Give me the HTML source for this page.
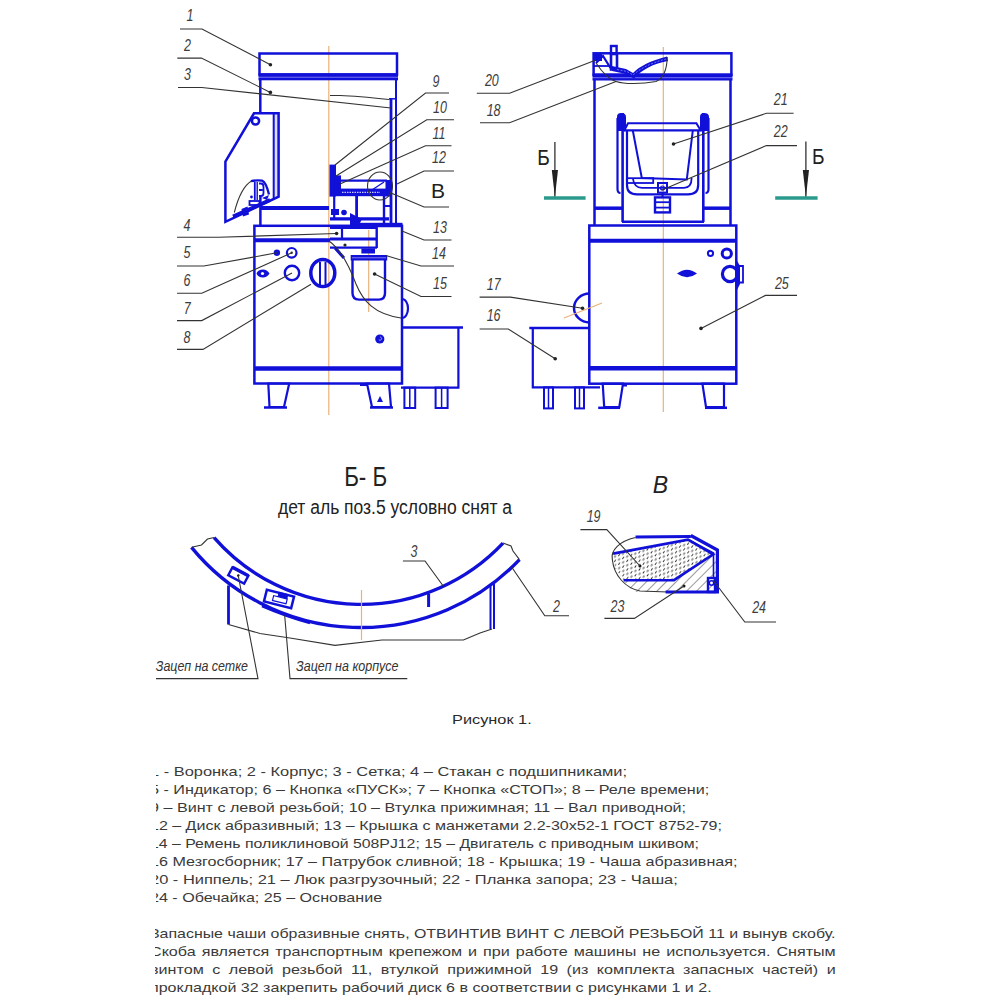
<!DOCTYPE html>
<html><head><meta charset="utf-8">
<style>
html,body{margin:0;padding:0;background:#fff;}
body{width:1000px;height:1000px;overflow:hidden;position:relative;font-family:"Liberation Sans",sans-serif;}
svg{position:absolute;left:0;top:0;}
.b{stroke:#1010d8;fill:none;}
.k{stroke:#333;fill:none;stroke-width:1.1;}
.o{stroke:#e9b27a;fill:none;stroke-width:1.2;}
.lbl text,text.lbl{font-family:"Liberation Sans",sans-serif;font-style:italic;font-size:16px;fill:#3c3c3c;transform-box:fill-box;transform-origin:center;transform:scaleX(0.78);}
.ln,.pl{position:absolute;white-space:nowrap;transform-origin:0 0;font-size:13px;color:#3a3a3a;line-height:16px;}
.txt{position:absolute;left:156px;overflow:hidden;white-space:nowrap;font-size:13px;color:#2a2a2a;}
</style></head><body>
<svg width="1000" height="1000" viewBox="0 0 1000 1000">
<!-- ===== LEFT VIEW ===== -->
<g id="left">
 <!-- centre line -->
 <line class="o" x1="328.8" y1="46" x2="328.8" y2="415"/>
 <line class="o" x1="368.7" y1="230" x2="368.7" y2="312" stroke-width="0.8"/>
 <!-- top funnel rect -->
 <rect class="b" x="259.5" y="53.5" width="137.5" height="21" stroke-width="2.5"/>
 <rect x="258.5" y="73.3" width="139.5" height="3.6" fill="#1010d8"/><rect x="258.5" y="76.9" width="139.5" height="1" fill="#5050ee"/><rect x="258.5" y="77.9" width="139.5" height="2.4" fill="#1010d8"/>
 <!-- housing walls -->
 <line class="b" x1="260.3" y1="80" x2="260.3" y2="114" stroke-width="2.5"/>
 <line class="b" x1="391" y1="98.5" x2="391" y2="224" stroke-width="2.8"/><line class="b" x1="389" y1="98.8" x2="396" y2="98.8" stroke-width="1.5"/>
 <line class="b" x1="396" y1="80" x2="396" y2="226" stroke-width="2"/>
 <path class="k" d="M330,95.5 H340 C355,96 375,98 389,99.5"/>
 <!-- hopper plate -->
 <rect x="273.7" y="113.3" width="4.9" height="83" fill="#dcdcfa"/>
 <polygon class="b" points="254,113.3 278.6,113.3 278.6,196.6 225.4,221.8 225.4,161.6" stroke-width="2.5"/>
 <line class="b" x1="273.7" y1="113.3" x2="273.7" y2="199" stroke-width="2"/>
 <circle class="b" cx="255.5" cy="121" r="3.6" stroke-width="2.5"/>
 <path class="k" d="M234.3,212.5 C238,198 243,186 251.5,181"/>
 <path class="b" d="M251,181.2 Q256,180 262,180.6 Q266,182 269,194.5" stroke-width="2.4"/>
 <line class="b" x1="254.8" y1="182" x2="254.8" y2="200" stroke-width="1.8"/>
 <line class="b" x1="257.2" y1="182" x2="257.2" y2="200" stroke-width="1.4"/>
 <path class="b" d="M259,183.5 h2 q2.5,0 2.5,3.5 v6 q0,3 -2.5,3 h-2 M259,190 h3.5" stroke-width="1.8"/>
 <rect class="b" x="249.5" y="201" width="10" height="4" stroke-width="1.8"/>
 <circle cx="251.5" cy="197" r="1.4" fill="#1010d8"/>
 <path d="M262,198 L269,195 L267,200Z" fill="#1010d8"/>
 <line class="b" x1="233" y1="216.5" x2="270" y2="200" stroke-width="3.6"/>
 <path d="M241.5,209 l6,-2.5 l1.5,8 l-6,2z" fill="#1010d8"/>
 <!-- band between housing and base -->
 <line class="b" x1="260" y1="208" x2="329" y2="208" stroke-width="4"/>
 <line class="b" x1="260.4" y1="197" x2="260.4" y2="226" stroke-width="2.5"/>
 <!-- base body -->
 <rect class="b" x="254.4" y="225.8" width="147.6" height="157.7" stroke-width="2.5"/>
 <line class="b" x1="254" y1="240.2" x2="330" y2="240.2" stroke-width="4"/>
 <line class="b" x1="254" y1="368.4" x2="402" y2="368.4" stroke-width="4.5"/>
 <!-- legs -->
 <polygon class="b" points="268.3,383.5 289.2,383.5 284,407 269.5,407" stroke-width="2.2"/>
 <line class="b" x1="264" y1="407.5" x2="287" y2="407.5" stroke-width="2.5"/>
 <polygon class="b" points="367,383.5 389,383.5 391,407 372,407" stroke-width="2.2"/>
 <line class="b" x1="370" y1="407.5" x2="393" y2="407.5" stroke-width="2.5"/>
 <line class="b" x1="360" y1="385" x2="368" y2="385" stroke-width="2"/>
 <path d="M377,402 l3,-6 l3,6z" fill="#1010d8"/>
 <!-- tray 16 (left view) -->
 <polyline class="b" points="401,327.6 463,327.6" stroke-width="2.5"/>
 <polyline class="b" points="458.4,327.6 458.4,387.6 401,387.6" stroke-width="2.2"/>
 <rect class="b" x="404.4" y="387.6" width="10.8" height="20.4" stroke-width="2"/>
 <line class="b" x1="409.8" y1="388" x2="409.8" y2="408" stroke-width="1.5"/>
 <rect class="b" x="435.6" y="387.6" width="12" height="20.4" stroke-width="2"/>
 <line class="b" x1="441.6" y1="388" x2="441.6" y2="408" stroke-width="1.5"/>
 <!-- controls -->
 <circle cx="276.9" cy="252.8" r="3.2" fill="#1010d8"/>
 <circle class="b" cx="291.7" cy="252.8" r="4.8" stroke-width="2.2"/>
 <circle cx="291.7" cy="252.8" r="1.2" fill="#333"/>
 <circle class="b" cx="292" cy="273" r="7.2" stroke-width="2.4"/>
 <path d="M256.5,273.5 Q258,269.5 263,269.5 Q267,269.5 269.5,273.5 Q267,277.5 263,277.5 Q258,277.5 256.5,273.5Z" fill="#1010d8"/><circle cx="262.5" cy="273.5" r="1.6" fill="#fff"/>
 <ellipse class="b" cx="322.8" cy="273" rx="12" ry="13.5" stroke-width="3.5"/>
 <line class="b" x1="320" y1="262" x2="320" y2="285" stroke-width="2"/>
 <line class="b" x1="325.5" y1="262" x2="325.5" y2="285" stroke-width="2"/>
 <circle cx="379.8" cy="339" r="4.6" fill="#1010d8"/><path d="M380,337 a1.6,1.6 0 1 1 -1.2,2.6" stroke="#c8c8ff" stroke-width="0.8" fill="none"/>
 <!-- mechanism -->
 <rect x="329.5" y="164.6" width="6.5" height="32" fill="#1010d8"/>
 <rect x="334.6" y="175.4" width="6.4" height="15" fill="#1010d8"/>
 <line class="b" x1="341" y1="180.6" x2="387" y2="180.6" stroke-width="2.2"/>
 <rect x="336" y="188.6" width="50" height="7.6" fill="#1010d8"/>
 <line x1="342" y1="192.3" x2="380" y2="192.3" stroke="#c8c8ff" stroke-width="1.2" stroke-dasharray="1.5,1"/>
 <rect x="385.5" y="180" width="6" height="16.5" fill="#1010d8"/>
 <path class="b" d="M372,190 L384,182" stroke-width="1.3"/>
 <line class="b" x1="334.2" y1="196" x2="334.2" y2="218" stroke-width="2.2"/>
 <line class="b" x1="356.6" y1="196" x2="356.6" y2="218" stroke-width="2.8"/>
 <line class="b" x1="384" y1="196" x2="384" y2="225" stroke-width="2.4"/>
 <line class="b" x1="330" y1="218.8" x2="389" y2="218.8" stroke-width="3.2"/>
 <rect x="350" y="222.8" width="52.5" height="4.4" fill="#1010d8"/>
 <rect x="331" y="209" width="8" height="6" fill="#1010d8"/>
 <circle cx="344" cy="212.5" r="2.8" fill="#1010d8"/>
 <path d="M350,213 L362,219 L357,229 L350,226Z" fill="#1010d8"/>
 <line class="b" x1="384.5" y1="206" x2="391" y2="206" stroke-width="2"/>
 <ellipse class="k" cx="380" cy="186" rx="12.5" ry="14" stroke-width="1"/>
 <!-- stakan 4 area -->
 <line class="b" x1="330" y1="227.8" x2="377" y2="227.8" stroke-width="2.2"/>
 <line class="b" x1="330" y1="239" x2="377" y2="239" stroke-width="3.2"/>
 <line class="b" x1="330" y1="247.6" x2="377" y2="247.6" stroke-width="2.4"/>
 <line class="b" x1="376.7" y1="226" x2="376.7" y2="248" stroke-width="2.4"/>
 <line class="b" x1="342" y1="227" x2="342" y2="239" stroke-width="2.2"/>
 <circle cx="345" cy="245" r="1.6" fill="#222"/>
 <path class="b" d="M335,248 L344,258" stroke-width="3"/>
 <!-- motor 15 -->
 <rect x="350.7" y="255" width="36.5" height="5.5" fill="#1010d8"/>
 <line x1="352" y1="257.8" x2="386" y2="257.8" stroke="#9a9af5" stroke-width="0.8"/>
 <rect x="361.4" y="248.5" width="13.6" height="5" fill="#1010d8"/>
 <path class="b" d="M352.5,259 V293 Q352.5,299.6 359,299.6 H379 Q385,299.6 385,293 V259" stroke-width="2.4"/>
 <path class="k" d="M329,241 C342,250 350,268 356,284 C363,301 374,314 401,318" stroke-width="1"/>
 <path class="b" d="M402,299 A6,9.5 0 0 1 402,318" stroke-width="2.2"/>
</g>

<!-- ===== RIGHT VIEW ===== -->
<g id="right">
 <line class="o" x1="663.3" y1="47" x2="663.3" y2="412" stroke-width="1"/>
 <rect class="b" x="593.6" y="53.3" width="137.8" height="21.5" stroke-width="2.5"/>
 <rect x="592.5" y="73.5" width="140" height="3.6" fill="#1010d8"/><rect x="592.5" y="77.1" width="140" height="1" fill="#5050ee"/><rect x="592.5" y="78.1" width="140" height="2.4" fill="#1010d8"/>
 <line class="b" x1="594.5" y1="80" x2="594.5" y2="226" stroke-width="2.5"/>
 <line class="b" x1="730.5" y1="80" x2="730.5" y2="226" stroke-width="2.5"/>
 <!-- nipple 20 & lid 18 -->
 <rect class="b" x="611" y="46" width="5.6" height="7.5" stroke-width="2.4"/>
 <rect class="b" x="611" y="54" width="6" height="15.5" stroke-width="2.6"/>
 <rect x="594" y="53" width="8" height="8" fill="#1010d8"/>
 <polyline class="b" points="596,63 603,56 610.5,68" stroke-width="2.2"/>
 <line class="b" x1="594" y1="66" x2="610" y2="66" stroke-width="1.8"/>
 <path d="M612,66 L626,69 L633,73 C640,66 650,61 667,56.5 L668,61 C652,64 642,70 634,78.5 L626,74 L612,71Z" fill="#1010d8"/>
 <path d="M617,69.5 L627,71.5 L633,75 C641,68 651,63 666,59" stroke="#8c8cf4" stroke-width="0.8" fill="none" stroke-dasharray="2,1.5"/>
 <path class="k" d="M596,63 C602,72 608,79 616,81.5 C624,84 640,84.5 656,81.5 C664,78 667,68 667.2,57" stroke-width="1"/>
 <!-- hatch 21 -->
 <path class="b" d="M617.5,118 V189 Q617.5,193 620.5,193" stroke-width="2.2"/>
 <path class="b" d="M708.5,118 V189 Q708.5,193 705.5,193" stroke-width="2.2"/>
 <path d="M617,117 Q617,113 621,113 Q626,113 626,117 V131 H617Z" fill="#1010d8"/>
 <path d="M700,117 Q700,113 704,113 Q709,113 709,117 V131 H700Z" fill="#1010d8"/>
 <line class="b" x1="622.6" y1="113" x2="622.6" y2="222" stroke-width="2.6"/>
 <line class="b" x1="703.3" y1="113" x2="703.3" y2="222" stroke-width="2.6"/>
 <polyline class="b" points="624,131 628,123.3 696.4,123.3 701,131" stroke-width="2"/>
 <line class="b" x1="624" y1="130.3" x2="702" y2="130.3" stroke-width="2.2"/>
 <path class="b" d="M627,131 V185 Q627,194.4 637,194.4 H688 Q698.2,194.4 698.2,185 V131" stroke-width="2.2"/>
 <polyline class="b" points="632.8,130.5 641.8,178 686.8,179.4 692.8,130.5" stroke-width="2"/>
 <path class="b" d="M632.8,178 Q634,187.8 642,187.8 H684 Q691.6,187.8 691.6,178" stroke-width="1.8"/>
 <rect class="b" x="627" y="178.2" width="26.2" height="4.8" stroke-width="1.8"/>
 <rect class="b" x="658" y="183" width="9" height="9.6" stroke-width="2"/>
 <circle class="b" cx="662.5" cy="188" r="2" stroke-width="1.2"/>
 <rect class="b" x="655" y="197.4" width="15" height="15" stroke-width="2.4"/>
 <line class="b" x1="656" y1="202.2" x2="669" y2="202.2" stroke-width="1.8"/>
 <line class="b" x1="656" y1="207.6" x2="669" y2="207.6" stroke-width="1.8"/>
 <line class="b" x1="662.5" y1="192.6" x2="662.5" y2="197.4" stroke-width="2"/>
 <line class="b" x1="594" y1="208.2" x2="622" y2="208.2" stroke-width="3.5"/>
 <line class="b" x1="703" y1="208.2" x2="731" y2="208.2" stroke-width="3.5"/>
 <line class="b" x1="622" y1="221.8" x2="704" y2="221.8" stroke-width="2.4"/>
 <!-- body 25 -->
 <rect class="b" x="589.3" y="225.5" width="147" height="158.2" stroke-width="2.5"/>
 <line class="b" x1="589" y1="240.7" x2="737" y2="240.7" stroke-width="4"/>
 <line class="b" x1="589" y1="368.3" x2="737" y2="368.3" stroke-width="4.5"/>
 <circle class="b" cx="710.5" cy="253.3" r="2.6" stroke-width="2"/>
 <circle class="b" cx="726.8" cy="253.5" r="4.6" stroke-width="3"/>
 <circle class="b" cx="730" cy="274" r="7.6" stroke-width="3.2"/>
 <path d="M735.5,258 L740,266 L740,284 L737,290 L735.5,290Z" fill="#1010d8"/>
 <path class="b" d="M739,266 H743 V282.5 H737" stroke-width="1.8"/>
 <path d="M677,273.6 Q687,266 697,273.6 Q687,281 677,273.6Z" fill="#1010d8"/>
 <!-- patrubok 17 -->
 <path class="b" d="M589.5,293.6 A15.5,14.4 0 0 0 589.5,322.4" stroke-width="2.5"/>
 <line class="o" x1="564" y1="318" x2="602" y2="303" stroke-width="1.2"/>
 <!-- legs -->
 <polygon class="b" points="602.7,383.7 623,383.7 619.3,407 604.2,407" stroke-width="2.2"/>
 <line class="b" x1="598.2" y1="407.8" x2="620" y2="407.8" stroke-width="2.5"/>
 <line class="b" x1="622" y1="385.5" x2="627" y2="385.5" stroke-width="2"/>
 <polygon class="b" points="702.4,383.7 724,383.7 724,407 706,407" stroke-width="2.2"/>
 <line class="b" x1="705" y1="407.8" x2="727" y2="407.8" stroke-width="2.5"/>
 <!-- tray 16 -->
 <line class="b" x1="529.3" y1="328" x2="589.5" y2="328" stroke-width="2.5"/>
 <polyline class="b" points="532.8,328 532.8,387.4 600,387.4" stroke-width="2.2"/>
 <rect class="b" x="544" y="387.4" width="9" height="21" stroke-width="2"/>
 <line class="b" x1="548.5" y1="388" x2="548.5" y2="408" stroke-width="1.5"/>
 <rect class="b" x="575" y="387.4" width="9" height="21" stroke-width="2"/>
 <line class="b" x1="579.5" y1="388" x2="579.5" y2="408" stroke-width="1.5"/>
</g>

<!-- ===== LEADERS & LABELS (top) ===== -->
<g id="leaders">
 <polyline class="k" points="180,29 202,29 270.4,64.7"/>
 <polyline class="k" points="177.3,58.1 201.4,58.1 270.4,92.4"/>
 <polyline class="k" points="178,87.5 201.8,87.5 391,108"/>
 <polyline class="k" points="177,237.3 218.6,237.3 336.6,233.5"/>
 <polyline class="k" points="177,266 203.9,266 276.9,252.8"/>
 <polyline class="k" points="177,293.3 201.8,293.3 291.7,252.8"/>
 <polyline class="k" points="177,320.6 201.8,320.6 292,273"/>
 <polyline class="k" points="177,349.4 203,349.4 311,284.3"/>
 <circle cx="270.4" cy="64.7" r="1.8" fill="#222"/>
 <circle cx="270.4" cy="92.4" r="1.8" fill="#222"/>
 <circle cx="336.6" cy="233.5" r="1.8" fill="#222"/>

 <polyline class="k" points="449,93 425.5,93 335,165"/>
 <polyline class="k" points="454,119.7 426.8,119.7 336,176"/>
 <polyline class="k" points="451.5,145.7 425.5,145.7 340,184"/>
 <polyline class="k" points="454,171 424,171 397,184"/>
 <polyline class="k" points="449,207 424,207 391,193"/>
 <polyline class="k" points="451.5,240 424,240 402,231"/>
 <polyline class="k" points="454,266 421,266 385.8,255.5"/>
 <polyline class="k" points="451.5,296.5 421,296.5 374.6,274"/>
 <circle cx="374.6" cy="274" r="1.8" fill="#222"/>

 <polyline class="k" points="476.8,93.2 509.6,93.2 596,60"/>
 <polyline class="k" points="480,122.8 509.6,122.8 616,81.4"/>
 <polyline class="k" points="793.6,113.3 766.4,113.3 673.5,144"/>
 <circle cx="673.5" cy="144" r="1.8" fill="#222"/>
 <polyline class="k" points="797,145.6 766.4,145.6 662,190"/>
 <polyline class="k" points="797,295.4 765.5,295.4 701,328.4"/>
 <circle cx="701" cy="328.4" r="1.8" fill="#222"/>
 <polyline class="k" points="479.6,297.1 510.4,297.1 582.5,308.3"/>
 <circle cx="582.5" cy="308.3" r="1.8" fill="#222"/>
 <polyline class="k" points="479.6,329 508.3,329 555.2,358.7"/>
 <circle cx="555.2" cy="358.7" r="1.8" fill="#222"/>
</g>
<g id="labels" class="lbl" text-anchor="middle">
 <text x="190" y="20.8">1</text>
 <text x="187.5" y="50.8">2</text>
 <text x="187.5" y="80.3">3</text>
 <text x="187" y="230.8">4</text>
 <text x="187" y="258.3">5</text>
 <text x="187" y="286.3">6</text>
 <text x="187" y="314.3">7</text>
 <text x="187" y="342.8">8</text>
 <text x="436" y="86.8">9</text>
 <text x="440" y="112.8">10</text>
 <text x="439" y="139.3">11</text>
 <text x="439" y="163.3">12</text>
 <text x="440" y="233.3">13</text>
 <text x="439" y="259.3">14</text>
 <text x="440" y="289.3">15</text>
 <text x="492" y="86.3">20</text>
 <text x="493.6" y="115.8">18</text>
 <text x="780.8" y="105.3">21</text>
 <text x="780.8" y="137.3">22</text>
 <text x="782" y="289.3">25</text>
 <text x="493.6" y="289.8">17</text>
 <text x="493.6" y="321.3">16</text>
</g>
<text x="438" y="197.5" font-size="21" fill="#222" text-anchor="middle" font-family="Liberation Sans">В</text>

<!-- Б arrows -->
<g>
 <text x="543.5" y="165" font-size="22.5" fill="#222" text-anchor="middle" transform="translate(543.5,0) scale(0.85,1) translate(-543.5,0)">Б</text>
 <line x1="554.9" y1="142" x2="554.9" y2="197" stroke="#222" stroke-width="1.2"/>
 <path d="M551.8,170 L554.9,197 L558,170Z" fill="#222"/>
 <line x1="544" y1="198" x2="585.6" y2="198" stroke="#2a9a8c" stroke-width="3.5"/>
 <text x="818.4" y="164.5" font-size="22.5" fill="#222" text-anchor="middle" transform="translate(818.4,0) scale(0.85,1) translate(-818.4,0)">Б</text>
 <line x1="805.9" y1="141.6" x2="805.9" y2="197" stroke="#222" stroke-width="1.2"/>
 <path d="M802.8,170 L805.9,197 L809,170Z" fill="#222"/>
 <line x1="775.2" y1="197.9" x2="817.6" y2="197.9" stroke="#2a9a8c" stroke-width="3.5"/>
</g>

<!-- ===== SECTION Б-Б ===== -->
<g id="section">
 <text x="365.7" y="486" font-size="27" fill="#222" text-anchor="middle" transform="translate(365.7,0) scale(0.83,1) translate(-365.7,0)">Б- Б</text>
 <text x="395" y="514.5" font-size="20" fill="#222" text-anchor="middle" transform="translate(395,0) scale(0.875,1) translate(-395,0)">дет аль поз.5 условно снят а</text>
 <path class="b" d="M214.1,537.6 A195,195 0 0 0 503,543.1" stroke-width="3.4"/>
 <path class="b" d="M191.5,547.3 A219,219 0 0 0 519.5,559.6" stroke-width="3.4"/>
 <path class="b" d="M262,606 Q285,616 310,623" stroke-width="2.5"/>
 <polyline class="k" points="191.7,547.2 201.5,545 207.5,539 214.2,537.5"/>
 <polyline class="k" points="503,543.1 511,546 513,551 519.5,559.6"/>
 <line class="b" x1="228.5" y1="585.5" x2="228.5" y2="624.5" stroke-width="2.8"/>
 <line class="b" x1="490.5" y1="584" x2="490.5" y2="629" stroke-width="2"/>
 <line class="b" x1="494" y1="584" x2="494" y2="629" stroke-width="2"/>
 <line class="b" x1="428.6" y1="593.7" x2="428.6" y2="607" stroke-width="3"/>
 <polyline class="k" points="228.5,624.5 260,633.5 290,638 335,645.4 382,640 463.4,640 480,633 492,629"/>
 <line class="o" x1="361.5" y1="590" x2="361.5" y2="640" stroke-width="0.9"/>
 <g transform="translate(238.3,575.5) rotate(28)"><rect class="b" x="-9" y="-4.5" width="18" height="9" stroke-width="2.4"/><line class="b" x1="-9" y1="-4.5" x2="9" y2="-4.5" stroke-width="3.5"/><circle cx="0" cy="0" r="1.3" fill="#222"/></g>
 <g transform="translate(279,599) rotate(14)"><rect class="b" x="-14" y="-6" width="28" height="12" stroke-width="2.5"/><rect x="-2" y="-7" width="10" height="5" fill="#1010d8"/><rect class="b" x="-6" y="-2" width="14" height="5" stroke-width="1.2"/></g>
 <polyline class="k" points="238.3,576 258,678.6 156,678.6"/>
 <polyline class="k" points="284.7,615.5 290,678.6 407.3,678.6"/>
 <text x="248" y="671" font-size="15" fill="#333" font-style="italic" text-anchor="end" transform="translate(248,0) scale(0.83,1) translate(-248,0)">Зацеп на сетке</text>
 <text x="296" y="671" font-size="15" fill="#333" font-style="italic" transform="translate(296,0) scale(0.835,1) translate(-296,0)">Зацеп на корпусе</text>
 <polyline class="k" points="402.9,561 425,561 443.2,586"/>
 <text x="413.9" y="557.5" class="lbl" text-anchor="middle">3</text>
 <polyline class="k" points="569,615.7 544.8,615.7 511.8,567.3"/>
 <text x="556.5" y="612.5" class="lbl" text-anchor="middle">2</text>
</g>
<!-- ===== DETAIL В ===== -->
<g id="detail">
 <defs>
  <pattern id="hatch" width="7" height="7" patternUnits="userSpaceOnUse" patternTransform="rotate(45)">
   <line x1="0" y1="0" x2="0" y2="7" stroke="#333" stroke-width="1"/>
  </pattern>
  <pattern id="dots" width="5" height="7" patternUnits="userSpaceOnUse" patternTransform="rotate(35)">
   <path d="M0.5,0.3 V3 M3,3.8 V6.5" stroke="#3a3a3a" stroke-width="1"/>
  </pattern>
 </defs>
 <text x="660.3" y="492.5" font-size="23" fill="#222" font-style="italic" text-anchor="middle">В</text>
 <polygon points="623.6,580.2 674,580.2 713.2,554.3 716,554 716,592 636,592 628,587" fill="url(#hatch)"/>
 <polygon points="613.1,553.6 688,539.6 713.2,554.3 674,580.2 623.6,580.2 615,568" fill="url(#dots)"/>
 <path class="k" d="M635.5,537.5 C620,541 610,550 612.4,560 C614,575 625,588 640,591 L668,592"/>
 <line class="b" x1="635.5" y1="537" x2="690.8" y2="536.5" stroke-width="3.2"/>
 <polyline class="b" points="690.8,535.5 717.4,550 717.4,592 665.6,592" stroke-width="3.2"/>
 <polyline class="b" points="613.1,553.6 688,539.6 713.2,554.3 674,580.2 623.6,580.2" stroke-width="2.6"/>
 <polyline class="b" points="689,540 713.5,553 713.5,578" stroke-width="1.6"/>
 <rect class="b" x="708" y="578" width="7" height="14" stroke-width="2.4"/><circle class="b" cx="711.5" cy="583" r="2.2" stroke-width="1.5"/>
 <circle cx="640" cy="566" r="1.5" fill="#111"/>
 <circle cx="684" cy="586" r="1.5" fill="#111"/>
 <polyline class="k" points="580.4,529.6 606.8,529.6 640,566"/>
 <text x="593.6" y="522.0" class="lbl" text-anchor="middle" font-size="14">19</text>
 <polyline class="k" points="604.4,618.4 634.4,618.4 684,586"/>
 <text x="617.6" y="612.0" class="lbl" text-anchor="middle">23</text>
 <polyline class="k" points="776,622 744.8,622 713,580"/>
 <text x="759.2" y="613.0" class="lbl" text-anchor="middle">24</text>
</g>
</svg>
<div class="cap" style="position:absolute;left:452.3px;top:711.8px;font-size:13px;color:#2a2a2a;white-space:nowrap;transform-origin:0 0;transform:scaleX(1.255);">Рисунок 1.</div>
<div id="list" style="position:absolute;left:156px;top:763.9px;width:700px;height:150px;overflow:hidden;">
 <div class="ln" style="left:-6px;top:0px;transform:scaleX(1.262)">1 - Воронка; 2 - Корпус; 3 - Сетка; 4 – Стакан с подшипниками;</div>
 <div class="ln" style="left:-6px;top:18px;transform:scaleX(1.243)">5 - Индикатор; 6 – Кнопка «ПУСК»; 7 – Кнопка «СТОП»; 8 – Реле времени;</div>
 <div class="ln" style="left:-6px;top:36px;transform:scaleX(1.24)">9 – Винт с левой резьбой; 10 – Втулка прижимная; 11 – Вал приводной;</div>
 <div class="ln" style="left:-6px;top:54px;transform:scaleX(1.232)">12 – Диск абразивный; 13 – Крышка с манжетами 2.2-30х52-1 ГОСТ 8752-79;</div>
 <div class="ln" style="left:-6px;top:72px;transform:scaleX(1.217)">14 – Ремень поликлиновой 508PJ12; 15 – Двигатель с приводным шкивом;</div>
 <div class="ln" style="left:-6px;top:90px;transform:scaleX(1.24)">16 Мезгосборник; 17 – Патрубок сливной; 18 - Крышка; 19 - Чаша абразивная;</div>
 <div class="ln" style="left:-6px;top:108px;transform:scaleX(1.265)">20 - Ниппель; 21 – Люк разгрузочный; 22 - Планка запора; 23 - Чаша;</div>
 <div class="ln" style="left:-6px;top:126px;transform:scaleX(1.238)">24 - Обечайка; 25 – Основание</div>
</div>
<div id="para" style="position:absolute;left:155px;top:926px;width:700px;height:74px;overflow:hidden;">
 <div class="pl" style="left:-5px;top:0px;width:558px;text-align:justify;text-align-last:justify;transform:scaleX(1.224)">Запасные чаши образивные снять, ОТВИНТИВ ВИНТ С ЛЕВОЙ РЕЗЬБОЙ 11 и вынув скобу.</div>
 <div class="pl" style="left:-5px;top:18px;width:553px;text-align:justify;text-align-last:justify;transform:scaleX(1.24)">Скоба является транспортным крепежом и при работе машины не используется. Снятым</div>
 <div class="pl" style="left:-5px;top:36px;width:553px;text-align:justify;text-align-last:justify;transform:scaleX(1.24)">винтом с левой резьбой 11, втулкой прижимной 19 (из комплекта запасных частей) и</div>
 <div class="pl" style="left:-5px;top:54px;width:553px;transform:scaleX(1.233)">прокладкой 32 закрепить рабочий диск 6 в соответствии с рисунками 1 и 2.</div>
</div>
</body></html>
